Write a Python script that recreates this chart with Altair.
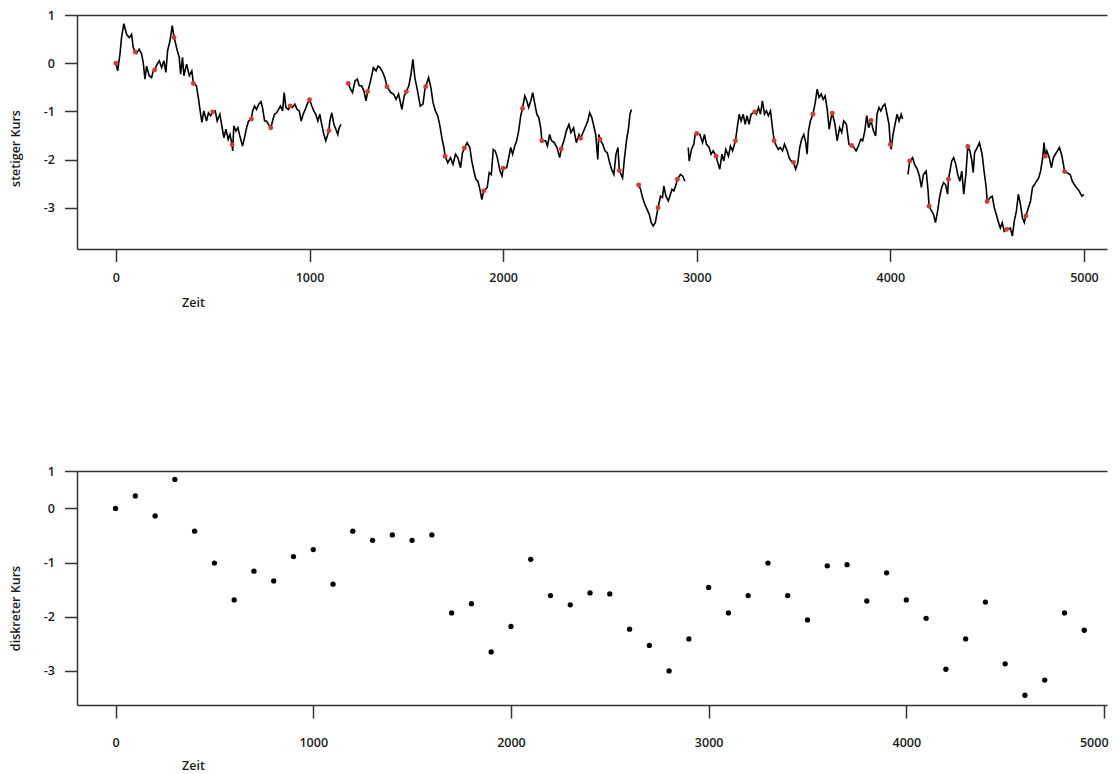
import altair as alt
import pandas as pd

# ---------------- data ----------------
# continuous price path ("stetiger Kurs"), drawn in five separate pieces
seg1_t = [0, 9, 21, 29, 41, 55, 69, 81, 89, 100, 107, 120, 133, 141, 150, 158, 172, 184, 193, 200,
          213, 224, 236, 248, 258, 267, 279, 291, 300, 305, 317, 327, 334, 344, 351, 365, 379, 392, 400,
          416, 427, 434, 444, 454, 468, 478, 489, 500, 513, 523, 537, 547, 558, 568, 580, 589, 600, 603,
          609, 620, 630, 640, 654, 664, 675, 685, 700, 706, 716, 726, 738, 749, 757, 768, 778, 788, 800,
          809, 819, 830, 840, 850, 861, 869, 878, 891, 900, 912, 924, 936, 947, 957, 967, 978, 988, 1000,
          1012, 1022, 1032, 1043, 1053, 1063, 1074, 1084, 1100, 1105, 1115, 1126, 1136, 1146, 1153, 1163]
seg1_v = [0.00, -0.16, 0.19, 0.53, 0.82, 0.60, 0.53, 0.60, 0.33, 0.23, 0.20, 0.29, 0.19, 0.01, -0.33, -0.06, -0.26, -0.30, -0.16, -0.14,
          -0.02, 0.05, -0.09, 0.05, -0.19, 0.26, 0.46, 0.78, 0.54, 0.46, 0.26, 0.12, -0.23, 0.12, -0.26, -0.02, -0.26, -0.16, -0.42,
          -0.47, -0.75, -0.96, -1.23, -0.99, -1.20, -1.03, -1.09, -1.01, -0.99, -1.20, -1.06, -1.30, -1.55, -1.37, -1.58, -1.48, -1.69, -1.82,
          -1.30, -1.41, -1.34, -1.51, -1.72, -1.55, -1.34, -1.20, -1.16, -0.99, -0.89, -0.96, -0.85, -0.80, -0.92, -1.20, -1.20, -1.27, -1.34,
          -1.20, -1.06, -1.03, -0.96, -0.89, -0.99, -0.61, -0.92, -0.96, -0.89, -0.92, -0.85, -0.96, -0.99, -1.20, -1.06, -0.96, -0.85, -0.76,
          -0.89, -0.99, -1.06, -1.20, -1.06, -1.27, -1.48, -1.61, -1.40, -1.20, -1.03, -1.27, -1.37, -1.48, -1.34, -1.27]

seg2_t = [1200, 1212, 1222, 1235, 1247, 1257, 1269, 1281, 1292, 1300, 1309, 1321, 1330, 1344, 1354, 1364, 1378, 1389, 1400,
          1420, 1434, 1447, 1460, 1477, 1489, 1500, 1513, 1524, 1534, 1544, 1558, 1572, 1586, 1596, 1600, 1615, 1627, 1638,
          1650, 1662, 1672, 1685, 1694, 1700, 1714, 1728, 1741, 1754, 1766, 1780, 1790, 1800, 1814, 1828, 1838, 1849, 1859,
          1870, 1880, 1890, 1900, 1918, 1928, 1939, 1949, 1959, 1970, 1984, 1994, 2000, 2018, 2029, 2039, 2049, 2060, 2070,
          2080, 2091, 2100, 2112, 2122, 2132, 2143, 2153, 2164, 2174, 2184, 2195, 2200, 2219, 2229, 2240, 2250, 2264, 2278,
          2292, 2300, 2316, 2326, 2340, 2350, 2364, 2378, 2392, 2400, 2423, 2437, 2447, 2458, 2468, 2478, 2489, 2494, 2500,
          2514, 2526, 2538, 2548, 2560, 2572, 2583, 2593, 2600, 2617, 2627, 2638, 2648, 2655, 2663]
seg2_v = [-0.42, -0.54, -0.61, -0.37, -0.33, -0.47, -0.47, -0.58, -0.78, -0.59, -0.47, -0.26, -0.09, -0.16, -0.06, -0.09, -0.19, -0.30, -0.49,
          -0.61, -0.64, -0.75, -0.64, -0.96, -0.68, -0.59, -0.47, -0.23, 0.08, -0.30, -0.58, -0.89, -0.85, -0.54, -0.49, -0.30, -0.51, -0.82,
          -0.99, -1.09, -1.27, -1.58, -1.75, -1.93, -2.07, -1.96, -2.10, -1.89, -1.96, -2.17, -1.86, -1.76, -1.65, -1.75, -2.03, -2.24, -2.41,
          -2.45, -2.62, -2.83, -2.65, -2.58, -2.27, -2.31, -1.79, -1.82, -1.96, -2.24, -2.34, -2.18, -2.17, -1.96, -1.75, -1.89, -1.72, -1.61,
          -1.41, -1.09, -0.94, -0.68, -0.78, -0.92, -0.78, -0.61, -0.85, -1.06, -1.13, -1.37, -1.61, -1.61, -1.72, -1.48, -1.61, -1.65, -1.75,
          -1.96, -1.78, -1.58, -1.41, -1.27, -1.44, -1.34, -1.65, -1.48, -1.56, -1.34, -1.20, -1.03, -1.13, -1.30, -1.48, -2.00, -1.48, -1.58,
          -1.68, -1.82, -1.86, -2.03, -2.20, -2.31, -1.89, -1.75, -2.23, -2.38, -1.96, -1.58, -1.34, -1.06, -0.96]

seg3_t = [2700, 2710, 2720, 2732, 2744, 2755, 2765, 2775, 2786, 2800, 2813, 2823, 2830, 2841, 2853, 2861, 2872, 2882,
          2893, 2900, 2916, 2927, 2939]
seg3_v = [-2.53, -2.62, -2.79, -2.93, -3.04, -3.14, -3.31, -3.38, -3.31, -3.00, -2.76, -2.79, -2.55, -2.76, -2.86, -2.76, -2.62, -2.65,
          -2.52, -2.41, -2.31, -2.34, -2.45]

seg4_t = [2956, 2961, 2973, 2985, 2992, 3000, 3016, 3030, 3040, 3050, 3064, 3074, 3085, 3100, 3109, 3119, 3130, 3140, 3150,
          3164, 3174, 3185, 3200, 3209, 3219, 3229, 3240, 3250, 3260, 3270, 3281, 3300, 3308, 3319, 3329, 3339, 3350, 3360,
          3370, 3381, 3391, 3400, 3412, 3422, 3432, 3443, 3453, 3467, 3477, 3487, 3500, 3511, 3522, 3532, 3542, 3553, 3563,
          3570, 3577, 3587, 3600, 3612, 3622, 3632, 3643, 3653, 3663, 3674, 3684, 3694, 3700, 3714, 3725, 3738, 3749, 3759,
          3773, 3786, 3800, 3812, 3823, 3835, 3847, 3857, 3868, 3878, 3888, 3900, 3913, 3924, 3931, 3941, 3951, 3962, 3972,
          3983, 3993, 4000, 4004, 4014, 4024, 4035, 4045, 4056, 4063]
seg4_v = [-1.75, -2.03, -1.79, -1.68, -1.48, -1.46, -1.48, -1.65, -1.48, -1.68, -1.75, -1.89, -1.82, -1.93, -2.07, -2.20, -1.89, -2.03, -1.79,
          -1.93, -1.72, -1.82, -1.61, -1.34, -1.06, -1.20, -1.06, -1.27, -1.09, -1.27, -1.06, -1.01, -1.06, -0.92, -1.06, -0.78, -1.06, -0.99,
          -1.09, -0.99, -1.34, -1.61, -1.72, -1.79, -1.75, -1.82, -1.68, -1.82, -1.96, -2.03, -2.06, -2.20, -2.07, -1.75, -1.58, -1.48, -1.65,
          -1.89, -1.41, -1.20, -1.06, -0.82, -0.54, -0.71, -0.64, -0.75, -0.68, -0.96, -1.37, -1.13, -1.04, -1.27, -1.61, -1.34, -1.44, -1.20,
          -1.27, -1.68, -1.71, -1.75, -1.82, -1.72, -1.58, -1.61, -1.41, -1.09, -1.34, -1.19, -1.41, -1.51, -1.06, -0.92, -0.99, -0.89, -0.85,
          -1.06, -1.27, -1.69, -1.79, -1.48, -1.27, -1.06, -1.20, -1.06, -1.16]

seg5_t = [4091, 4100, 4115, 4125, 4139, 4150, 4160, 4171, 4185, 4195, 4200, 4223, 4233, 4244, 4254, 4265, 4275, 4285,
          4296, 4300, 4317, 4327, 4338, 4348, 4359, 4369, 4379, 4390, 4400, 4411, 4421, 4428, 4435, 4449, 4460, 4474,
          4484, 4495, 4500, 4516, 4526, 4537, 4547, 4557, 4568, 4578, 4588, 4600, 4620, 4630, 4640, 4651, 4661, 4672,
          4682, 4692, 4700, 4724, 4734, 4745, 4755, 4766, 4776, 4787, 4794, 4800, 4808, 4821, 4832, 4842, 4852, 4863,
          4873, 4884, 4894, 4900, 4929, 4940, 4950, 4961, 4975, 4989, 5000]
seg5_v = [-2.31, -2.03, -1.96, -2.10, -2.20, -2.34, -2.58, -2.31, -2.24, -2.65, -2.97, -3.14, -3.31, -3.07, -2.79, -2.58, -2.48, -2.52,
          -2.72, -2.41, -2.03, -1.96, -2.10, -2.31, -2.45, -2.24, -2.72, -2.31, -1.73, -1.82, -2.03, -2.27, -1.86, -1.75, -1.65, -1.89,
          -2.24, -2.58, -2.87, -2.79, -2.76, -3.00, -3.14, -3.28, -3.42, -3.31, -3.49, -3.45, -3.42, -3.59, -3.28, -3.07, -2.72, -2.93,
          -3.21, -3.31, -3.17, -2.86, -2.58, -2.52, -2.45, -2.38, -2.24, -1.96, -1.65, -1.93, -1.82, -1.96, -2.17, -1.96, -1.89, -1.82,
          -1.75, -1.89, -2.10, -2.25, -2.31, -2.45, -2.52, -2.58, -2.65, -2.76, -2.72]

# discrete price ("diskreter Kurs"): value every 100 time steps
disc_t = list(range(0, 5000, 100))
disc_v = [0.00, 0.23, -0.14, 0.535, -0.42, -1.01, -1.69, -1.16, -1.34, -0.89,
          -0.76, -1.40, -0.42, -0.59, -0.49, -0.59, -0.49, -1.93, -1.76, -2.65,
          -2.18, -0.94, -1.61, -1.78, -1.56, -1.58, -2.23, -2.53, -3.00, -2.41,
          -1.46, -1.93, -1.61, -1.01, -1.61, -2.06, -1.06, -1.04, -1.71, -1.19,
          -1.69, -2.03, -2.97, -2.41, -1.73, -2.87, -3.45, -3.17, -1.93, -2.25]

x_ticks = [0, 1000, 2000, 3000, 4000, 5000]
y_ticks = [-3, -2, -1, 0, 1]

# ---------------- tables ----------------
rows = []
for k, (ts, vs) in enumerate([(seg1_t, seg1_v), (seg2_t, seg2_v), (seg3_t, seg3_v),
                              (seg4_t, seg4_v), (seg5_t, seg5_v)]):
    for t, v in zip(ts, vs):
        rows.append({"t": t, "v": v, "seg": k})
line_df = pd.DataFrame(rows)
disc_df = pd.DataFrame({"t": disc_t, "v": disc_v})

# ---------------- styling ----------------
FONT = "Open Sans"
INK = "#1a1a1a"
FRAME = "#333333"
W = 1030
H = 234

label_expr = ("datum.value > 0.5 ? '1' : (datum.value < 0 ? '-' + abs(datum.value) : '' + datum.value)")

x_top = alt.Scale(domain=[-201, 5119], nice=False, zero=False)
y_top = alt.Scale(domain=[-3.857, 1.0], nice=False, zero=False)
x_bot = alt.Scale(domain=[-195, 5015], nice=False, zero=False)
y_bot = alt.Scale(domain=[-3.63, 0.69], nice=False, zero=False)


def x_axis(title_y, label_pad, tick, flush=False):
    extra = {"labelFlush": 20, "labelFlushOffset": 4} if flush else {}
    return alt.Axis(values=x_ticks, format="d", title="Zeit", titleX=116, titleY=title_y,
                    titleBaseline="middle", titleAlign="center", labelBaseline="middle",
                    labelPadding=label_pad, tickSize=tick, grid=False, **extra)


def y_axis(title, title_y, values):
    return alt.Axis(values=values, title=title, titleX=-62, titleY=title_y, titleAngle=270,
                    titleBaseline="middle", titleAlign="center", labelExpr=label_expr,
                    labelPadding=10, tickSize=12.5, grid=False)


top_axis = alt.Axis(orient="top", labels=False, ticks=False, title=None, domain=True, grid=False)
y_axis_top = y_axis("stetiger Kurs", 133, y_ticks)

# top panel
top_line = alt.Chart(line_df).mark_line(color="black", strokeWidth=1.6).encode(
    x=alt.X("t:Q", scale=x_top, axis=x_axis(53, 16, 12.5)),
    y=alt.Y("v:Q", scale=y_top, axis=y_axis_top),
    detail="seg:N",
)
top_frame = alt.Chart(disc_df).mark_point(opacity=0).encode(
    x=alt.X("t:Q", scale=x_top, axis=top_axis),
    y=alt.Y("v:Q", scale=y_top, axis=y_axis_top),
)
top_pts = alt.Chart(disc_df).mark_circle(color="#d63a32", opacity=1, size=24).encode(
    x=alt.X("t:Q", scale=x_top, axis=None),
    y=alt.Y("v:Q", scale=y_top, axis=y_axis_top),
)
top = alt.layer(top_line, top_frame, top_pts).resolve_axis(x="independent").properties(width=W, height=H)

# bottom panel
bot_pts = alt.Chart(disc_df).mark_circle(color="black", opacity=1, size=28).encode(
    x=alt.X("t:Q", scale=x_bot, axis=x_axis(60, 24, 13, flush=True)),
    y=alt.Y("v:Q", scale=y_bot, axis=y_axis("diskreter Kurs", 137, [-3, -2, -1, 0, 0.69])),
)
bot_frame = alt.Chart(disc_df).mark_point(opacity=0).encode(
    x=alt.X("t:Q", scale=x_bot, axis=top_axis)
)
bottom = alt.layer(bot_pts, bot_frame).resolve_axis(x="independent").properties(width=W, height=H)

chart = alt.vconcat(top, bottom, spacing=156).resolve_scale(x="independent", y="independent").properties(
    padding={"left": 1, "top": 1, "right": 0, "bottom": 0}, background="white"
).configure_view(stroke=None).configure_axis(
    domainColor=FRAME, domainWidth=1.5, tickColor=FRAME, tickWidth=1.5,
    labelFont=FONT, labelFontSize=12.5, labelColor=INK, labelFontWeight=600,
    titleFont=FONT, titleFontSize=12.5, titleFontWeight=600, titleColor=INK,
)

chart.save("out.html", embed_options={"renderer": "svg", "actions": False})
